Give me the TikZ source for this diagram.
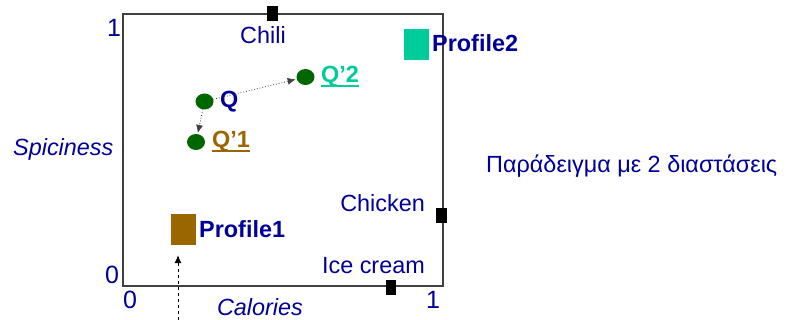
\documentclass[tikz,border=0pt]{standalone}
\usepackage{fontspec}
\setmainfont{Liberation Sans}
\usetikzlibrary{arrows.meta,shapes.geometric}
\definecolor{navy}{RGB}{0,0,153}
\definecolor{sea}{RGB}{0,204,153}
\definecolor{umber}{RGB}{153,102,0}
\definecolor{leaf}{RGB}{0,102,0}
\tikzset{
  txt/.style={inner sep=0pt, text=navy, font=\fontsize{23.4}{27}\selectfont},
  btxt/.style={txt, font=\fontsize{23.4}{27}\selectfont\bfseries},
  itxt/.style={txt, font=\fontsize{23.4}{27}\selectfont\itshape},
  num/.style={txt, font=\fontsize{25}{28}\selectfont},
  marker/.style={fill=black, draw=none, inner sep=0pt, minimum width=11pt, minimum height=15pt},
  profile/.style={draw=none, inner sep=0pt, minimum width=25pt, minimum height=31pt},
  query/.style={ellipse, fill=leaf, draw=none, inner sep=0pt, minimum width=18pt, minimum height=16pt},
  move/.style={dotted, line width=0.8pt, black!75, -{Latex[length=8pt,width=7pt]}, shorten >=1pt},
  frame/.style={draw=black!75, line width=1.2pt},
}
\begin{document}
\begin{tikzpicture}[x=1pt,y=-1pt]
\useasboundingbox (0,0) rectangle (786,320);

% unit square of the feature space
\draw[frame] (123,14) rectangle (443,286);

% axis numbers and names
\node[num] (y1) at (114,28) {1};
\node[num] (y0) at (112,275) {0};
\node[num] (x0) at (130,300) {0};
\node[num] (x1) at (433,300) {1};
\node[itxt, anchor=base west] (ylab) at (13,156) {Spiciness};
\node[itxt] (xlab) at (260,307) {Calories};

% items on the border of the square
\node[marker] (m1) at (272.5,13.5) {};
\node[marker] (m2) at (441.5,215.5) {};
\node[marker, minimum width=10pt] (m3) at (391,287.5) {};
\node[txt] (chili) at (263,35.5) {Chili};
\node[txt, anchor=east] (chicken) at (425,203.5) {Chicken};
\node[txt, anchor=east] (icecream) at (425,265.5) {Ice cream};

% user profiles
\node[profile, fill=sea] (p2) at (416.5,44.5) {};
\node[btxt, anchor=west] (p2l) at (432,43.5) {Profile2};
\node[profile, fill=umber] (p1) at (183.5,229.5) {};
\node[btxt, anchor=west] (p1l) at (199,229.5) {Profile1};

% query and its two refinements
\node[query] (q) at (204.5,101.5) {};
\node[query] (q2) at (305.5,77) {};
\node[query] (q1) at (196,142) {};
\node[btxt, anchor=base west] (ql) at (220,108) {Q};
\node[btxt, text=sea, anchor=base west] (q2l) at (321,83) {Q’2};
\node[btxt, text=umber, anchor=base west] (q1l) at (212,148) {Q’1};
\draw[sea, line width=2.2pt] ([yshift=-3pt]q2l.base west) -- ([yshift=-3pt]q2l.base east);
\draw[umber, line width=2.2pt] ([yshift=-3pt]q1l.base west) -- ([yshift=-3pt]q1l.base east);
\draw[move] (q) -- (q2);
\draw[move] (q) -- (q1);

% pointer to the first profile
\coordinate (pin) at (178,320);
\draw[dashed, line width=0.8pt, -{Latex[length=8pt,width=7pt]}, shorten >=10pt] (pin) -- (pin |- p1.south);

% caption
\node[txt, anchor=base west] (cap) at (486,172.5) {Παράδειγμα με 2 διαστάσεις};
\end{tikzpicture}
\end{document}
